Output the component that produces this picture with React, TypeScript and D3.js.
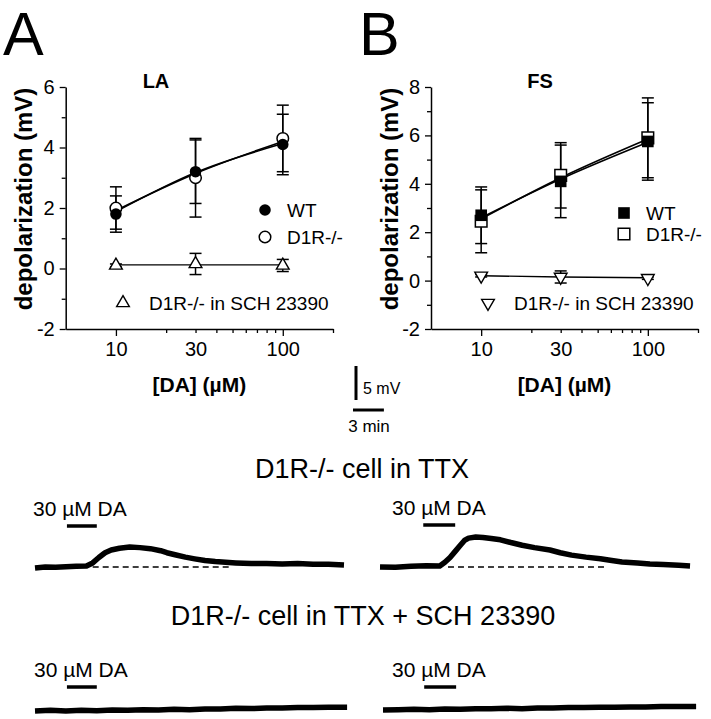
import { useEffect, useRef } from "react";
import * as d3 from "d3";

const W = 711;
const H = 719;
const FONT = "Liberation Sans, Arial, Helvetica, sans-serif";

// dose-response data (x = [DA] in µM)
const doses = [10, 30, 100];
const xMinor = [20, 30, 40, 50, 60, 70, 80, 90, 200];
const xMajor = [10, 100];
const xLabels = [10, 30, 100];

// LA
const laWT = [1.8, 3.2, 4.1];
const laWTErr = [0.6, 1.05, 1.0];
const laKO = [2.0, 3.0, 4.3];
const laKOErr = [0.7, 1.3, 1.1];
const laSCH = [0.1, 0.15, 0.1];
const laSCHErr = [0.05, 0.35, 0.2];
const laFitWT = [1.88, 3.17, 4.13];
const laFitKO = [1.92, 3.14, 4.2];
const laFitSCH = [0.12, 0.12, 0.12];

// FS
const fsWT = [2.7, 4.1, 5.75];
const fsWTErr = [1.17, 1.5, 1.6];
const fsKO = [2.45, 4.35, 5.9];
const fsKOErr = [1.3, 1.35, 1.65];
const fsSCH = [0.2, 0.15, 0.1];
const fsSCHErr = [0.05, 0.25, 0.05];
const fsFitWT = [2.6, 4.2, 5.72];
const fsFitKO = [2.55, 4.25, 5.85];
const fsFitSCH = [0.2, 0.15, 0.12];

// recordings: [minutes, mV above baseline]
const ttxLeft = [
  [0, -0.15], [1, 0], [2, -0.05], [3, 0.05], [4, 0.1], [5, 0.15], [5.6, 0.6], [6.2, 1.4],
  [6.8, 2.1], [7.4, 2.5], [8.2, 2.75], [9.2, 2.95], [10.2, 2.85], [11.2, 2.7], [12.2, 2.4],
  [12.8, 2.1], [13.6, 1.8], [14.6, 1.45], [15.5, 1.2], [16.5, 0.95], [17.5, 0.8], [18.5, 0.7],
  [19.5, 0.6], [21, 0.5], [22.5, 0.5], [24, 0.45], [25.5, 0.5], [27, 0.4], [28.5, 0.4], [30, 0.3],
];
const ttxRight = [
  [0, 0], [1.5, -0.05], [3, 0.1], [4.5, 0.2], [5.8, 0.15], [6.3, 0.7], [6.8, 1.4], [7.3, 2.3],
  [7.8, 3.2], [8.2, 3.9], [8.6, 4.25], [9.3, 4.4], [10, 4.35], [10.8, 4.2], [11.7, 4.0],
  [12.7, 3.6], [13.8, 3.2], [15, 2.85], [16.5, 2.5], [17.5, 2.1], [18.6, 1.75], [20, 1.45],
  [21.4, 1.2], [22.5, 0.95], [23.5, 0.75], [25, 0.6], [26.2, 0.45], [27.5, 0.35], [29, 0.25], [30.1, 0.15],
];
const schLeft = [
  [0, 0], [1.5, 0.1], [3, 0], [4.5, 0.1], [6, 0.05], [7.5, 0.15], [9, 0.1], [10.5, 0.2],
  [12, 0.15], [13.5, 0.25], [15, 0.2], [16.5, 0.3], [18, 0.3], [19.5, 0.4], [21, 0.35],
  [22.5, 0.45], [24, 0.45], [25.5, 0.5], [27, 0.5], [28.5, 0.55], [30.3, 0.55],
];
const schRight = [
  [0, 0], [1.5, 0.05], [3, 0.1], [4.5, 0.05], [6, 0.15], [7.5, 0.1], [9, 0.2], [10.5, 0.2],
  [12, 0.25], [13.5, 0.2], [15, 0.3], [16.5, 0.3], [18, 0.35], [19.5, 0.35], [21, 0.4],
  [22.5, 0.4], [24, 0.45], [25.5, 0.45], [27, 0.5], [28.5, 0.5], [30.4, 0.5],
];
const ttxLeftDash = [5.6, 18.9];
const ttxRightDash = [6.6, 21.8];
const daLeft = [3.1, 6.0];
const daRight = [4.2, 7.3];
const daRight2 = [4.0, 7.1];

const PX_PER_MIN = 10.3;
const PX_PER_MV = 6.8;

export default function App() {
  const ref = useRef<SVGSVGElement>(null);

  useEffect(() => {
    const svg = d3.select(ref.current);
    svg.selectAll("*").remove();
    svg.append("rect").attr("width", W).attr("height", H).attr("fill", "#fff");

    const panels = [
      {
        letter: "A", lx: 3, title: "LA", titleX: 156, left: 65.7, right: 333, yMax: 6,
        wt: laWT, wtErr: laWTErr, ko: laKO, koErr: laKOErr, sch: laSCH, schErr: laSCHErr,
        fitWT: laFitWT, fitKO: laFitKO, fitSCH: laFitSCH,
        shape: d3.symbolCircle, size: 105, down: false,
        legX: 265, legY: [210, 237], legTextY: [217, 244], schLeg: [123, 303],
        labelX: 32,
      },
      {
        letter: "B", lx: 359, title: "FS", titleX: 540, left: 431, right: 698, yMax: 8,
        wt: fsWT, wtErr: fsWTErr, ko: fsKO, koErr: fsKOErr, sch: fsSCH, schErr: fsSCHErr,
        fitWT: fsFitWT, fitKO: fsFitKO, fitSCH: fsFitSCH,
        shape: d3.symbolSquare, size: 135, down: true,
        legX: 624, legY: [213, 234], legTextY: [220, 241], schLeg: [488, 303],
        labelX: 398,
      },
    ];

    panels.forEach(p => {
      const g = svg.append("g");
      const x = d3.scaleLog().domain([5, 200]).range([p.left, p.right]);
      const y = d3.scaleLinear().domain([-2, p.yMax]).range([329, 87]);

      g.append("text").attr("x", p.lx).attr("y", 55).attr("font-family", FONT)
        .attr("font-size", 61).text(p.letter);
      g.append("text").attr("x", p.titleX).attr("y", 88).attr("text-anchor", "middle")
        .attr("font-family", FONT).attr("font-weight", "bold").attr("font-size", 20).text(p.title);

      // axes
      const xAxis = g.append("g").attr("transform", "translate(0,329)")
        .call(d3.axisBottom(x).tickValues([...xMajor, ...xMinor]).tickSizeOuter(0)
          .tickFormat(d => (xLabels.includes(+d) ? String(d) : "")));
      xAxis.selectAll(".tick line").attr("y2", d => (xMajor.includes(+d) ? 7 : 4));
      xAxis.selectAll(".tick text").attr("y", 13).attr("font-size", 20);

      const yTicks = d3.range(-2, p.yMax + 1);
      const yAxis = g.append("g").attr("transform", `translate(${p.left},0)`)
        .call(d3.axisLeft(y).tickValues(yTicks).tickSizeOuter(0)
          .tickFormat(d => (+d % 2 === 0 ? String(d) : "")));
      yAxis.selectAll(".tick line").attr("x2", d => (+d % 2 === 0 ? -6 : -4));
      yAxis.selectAll(".tick text").attr("x", -11).attr("font-size", 20);

      [xAxis, yAxis].forEach(a => {
        a.attr("font-family", FONT);
        a.select(".domain").attr("stroke-width", 1.5);
        a.selectAll(".tick line").attr("stroke-width", 1.3);
        a.selectAll(".tick text").attr("fill", "#000");
      });

      g.append("text").attr("x", (x(10) + x(100)) / 2).attr("y", 392).attr("text-anchor", "middle")
        .attr("font-family", FONT).attr("font-weight", "bold").attr("font-size", 21).text("[DA] (µM)");
      g.append("text").attr("transform", `translate(${p.labelX},199) rotate(-90)`)
        .attr("text-anchor", "middle").attr("font-family", FONT).attr("font-weight", "bold")
        .attr("font-size", 24).text("depolarization (mV)");

      // error bars
      const series = [
        { v: p.ko, e: p.koErr },
        { v: p.wt, e: p.wtErr },
        { v: p.sch, e: p.schErr },
      ];
      series.forEach(s => {
        doses.forEach((d, i) => {
          const cx = x(d);
          const top = y(s.v[i] + s.e[i]);
          const bot = y(s.v[i] - s.e[i]);
          g.append("line").attr("x1", cx).attr("x2", cx).attr("y1", top).attr("y2", bot)
            .attr("stroke", "#000").attr("stroke-width", 1.5);
          [top, bot].forEach(yy => g.append("line").attr("x1", cx - 6).attr("x2", cx + 6)
            .attr("y1", yy).attr("y2", yy).attr("stroke", "#000").attr("stroke-width", 1.5));
        });
      });

      // fitted curves
      const fitLine = d3.line<number>().x((_, i) => x(doses[i])).y(v => y(v)).curve(d3.curveMonotoneX);
      [p.fitWT, p.fitKO].forEach(f => g.append("path").datum(f).attr("d", fitLine)
        .attr("fill", "none").attr("stroke", "#000").attr("stroke-width", 1.6));
      g.append("path").datum(p.fitSCH).attr("d", d3.line<number>().x((_, i) => x(doses[i])).y(v => y(v)))
        .attr("fill", "none").attr("stroke", "#000").attr("stroke-width", 1.4);

      // markers
      const sym = d3.symbol().type(p.shape).size(p.size);
      const tri = d3.symbol().type(d3.symbolTriangle).size(70);
      const triRot = p.down ? " rotate(180)" : "";
      doses.forEach((d, i) => {
        g.append("path").attr("d", tri()).attr("transform", `translate(${x(d)},${y(p.sch[i])})${triRot}`)
          .attr("fill", "#fff").attr("stroke", "#000").attr("stroke-width", 1.4);
        g.append("path").attr("d", sym()).attr("transform", `translate(${x(d)},${y(p.ko[i])})`)
          .attr("fill", "#fff").attr("stroke", "#000").attr("stroke-width", 1.5);
        g.append("path").attr("d", sym()).attr("transform", `translate(${x(d)},${y(p.wt[i])})`)
          .attr("fill", "#000");
      });

      // legend
      g.append("path").attr("d", sym()).attr("transform", `translate(${p.legX},${p.legY[0]})`).attr("fill", "#000");
      g.append("path").attr("d", sym()).attr("transform", `translate(${p.legX},${p.legY[1]})`)
        .attr("fill", "#fff").attr("stroke", "#000").attr("stroke-width", 1.5);
      g.append("path").attr("d", tri()).attr("transform", `translate(${p.schLeg[0]},${p.schLeg[1]})${triRot}`)
        .attr("fill", "#fff").attr("stroke", "#000").attr("stroke-width", 1.4);
      [["WT", p.legTextY[0]], ["D1R-/-", p.legTextY[1]]].forEach(([t, yy]) =>
        g.append("text").attr("x", p.legX + 22).attr("y", yy).attr("font-family", FONT)
          .attr("font-size", 19).text(t as string));
      g.append("text").attr("x", p.schLeg[0] + 26).attr("y", 310).attr("font-family", FONT)
        .attr("font-size", 19).text("D1R-/- in SCH 23390");
    });

    /* ---------- scale bars ---------- */
    svg.append("line").attr("x1", 356).attr("x2", 356).attr("y1", 366).attr("y2", 366 + 5 * PX_PER_MV)
      .attr("stroke", "#000").attr("stroke-width", 3);
    svg.append("text").attr("x", 363).attr("y", 394).attr("font-family", FONT).attr("font-size", 16).text("5 mV");
    svg.append("line").attr("x1", 353).attr("x2", 353 + 3 * PX_PER_MIN).attr("y1", 410).attr("y2", 410)
      .attr("stroke", "#000").attr("stroke-width", 3);
    svg.append("text").attr("x", 369).attr("y", 432).attr("text-anchor", "middle").attr("font-family", FONT)
      .attr("font-size", 17).text("3 min");

    /* ---------- traces ---------- */
    svg.append("text").attr("x", 362).attr("y", 478).attr("text-anchor", "middle").attr("font-family", FONT)
      .attr("font-size", 27).text("D1R-/- cell in TTX");
    svg.append("text").attr("x", 363).attr("y", 625).attr("text-anchor", "middle").attr("font-family", FONT)
      .attr("font-size", 27).text("D1R-/- cell in TTX + SCH 23390");

    const traces = [
      { data: ttxLeft, x0: 35, base: 567, da: daLeft, labelX: 33, labelY: 516, barY: 526, dash: ttxLeftDash },
      { data: ttxRight, x0: 380, base: 567, da: daRight, labelX: 392, labelY: 515, barY: 525, dash: ttxRightDash },
      { data: schLeft, x0: 35, base: 711, da: daLeft, labelX: 34, labelY: 677, barY: 687, dash: null },
      { data: schRight, x0: 383, base: 710, da: daRight2, labelX: 392, labelY: 677, barY: 687, dash: null },
    ];
    traces.forEach(tr => {
      const tx = d3.scaleLinear().domain([0, 30]).range([tr.x0, tr.x0 + 30 * PX_PER_MIN]);
      const ty = d3.scaleLinear().domain([0, 5]).range([tr.base, tr.base - 5 * PX_PER_MV]);
      svg.append("text").attr("x", tr.labelX).attr("y", tr.labelY).attr("font-family", FONT)
        .attr("font-size", 21).text("30 µM DA");
      svg.append("line").attr("x1", tx(tr.da[0])).attr("x2", tx(tr.da[1])).attr("y1", tr.barY).attr("y2", tr.barY)
        .attr("stroke", "#000").attr("stroke-width", 3.5);
      if (tr.dash) {
        svg.append("line").attr("x1", tx(tr.dash[0])).attr("x2", tx(tr.dash[1]))
          .attr("y1", ty(0)).attr("y2", ty(0)).attr("stroke", "#000").attr("stroke-width", 1.4)
          .attr("stroke-dasharray", "6,4");
      }
      const line = d3.line<number[]>().x(d => tx(d[0])).y(d => ty(d[1]));
      svg.append("path").datum(tr.data).attr("d", line).attr("fill", "none").attr("stroke", "#000")
        .attr("stroke-width", 5.5).attr("stroke-linejoin", "round");
    });
  }, []);

  return (
    <svg ref={ref} width={W} height={H} style={{ position: "absolute", left: 0, top: 0 }}></svg>
  );
}
